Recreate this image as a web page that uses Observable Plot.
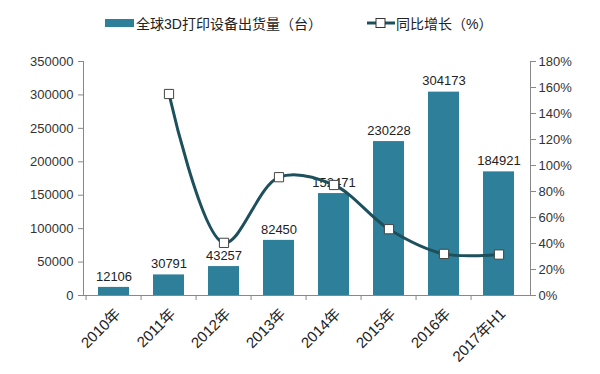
<!DOCTYPE html>
<html><head><meta charset="utf-8">
<script src="https://cdn.jsdelivr.net/npm/d3@7"></script>
<script src="https://cdn.jsdelivr.net/npm/@observablehq/plot@0.6"></script>
<style>
body{margin:0;background:#fff;font-family:"Liberation Sans","Noto Sans CJK SC",sans-serif;}
#legend{position:relative;height:40px;width:600px;font-size:14px;color:#222;}
#legend .item{position:absolute;top:13px;display:flex;align-items:center;white-space:nowrap;}
</style></head>
<body>
<div id="legend">
  <div class="item" style="left:105px"><span style="display:inline-block;width:29px;height:8px;background:#2e7f99;margin-right:2px"></span>全球3D打印设备出货量（台）</div>
  <div class="item" style="left:367px"><svg width="28" height="12" style="margin-right:1px"><line x1="0" y1="6" x2="28" y2="6" stroke="#1d4f5c" stroke-width="3"/><rect x="9" y="1.5" width="9" height="9" fill="#fff" stroke="#333" stroke-width="1"/></svg>同比增长（%）</div>
</div>
<div id="chart"></div>
<script>
const categories = ["2010年","2011年","2012年","2013年","2014年","2015年","2016年","2017年H1"];
const shipments = [12106, 30791, 43257, 82450, 152471, 230228, 304173, 184921];
const growthCategories = ["2011年","2012年","2013年","2014年","2015年","2016年","2017年H1"];
const growth = [155, 40.5, 91, 85, 51, 32, 31.5];
const leftTicks = [0,50000,100000,150000,200000,250000,300000,350000];
const rightTicks = [0,20,40,60,80,100,120,140,160,180];

const yMax = 350000, pMax = 180;
const toY = p => p / pMax * yMax;

const bars = categories.map((c,i)=>({cat:c, v:shipments[i]}));
const line = growthCategories.map((c,i)=>({cat:c, p:growth[i]}));

const W = 600, H = 334, mL = 83, mR = 70;
const step = (W - mL - mR) / categories.length;

const font = '"Liberation Sans","Noto Sans CJK SC",sans-serif';
const plot = Plot.plot({
  width: W, height: H,
  marginLeft: mL, marginRight: mR, marginTop: 21, marginBottom: 79,
  style: {fontFamily: font, fontSize: "13px", color: "#333", background: "#fff"},
  x: {domain: categories, padding: 0.43, paddingOuter: 0.215, label: null},
  y: {domain: [0, yMax], label: null},
  marks: [
    Plot.barY(bars, {x: "cat", y: "v", fill: "#2e7f99"}),
    Plot.text(bars, {x: "cat", y: "v", text: d => String(d.v), dy: -11, fill: "#222", fontSize: 13}),
    Plot.line(line, {x: "cat", y: d => toY(d.p), curve: "catmull-rom", stroke: "#1d4f5c", strokeWidth: 3}),
    Plot.dot(line, {x: "cat", y: d => toY(d.p), symbol: "square", r: 5.2, fill: "#fff", stroke: "#444", strokeWidth: 1}),
    Plot.ruleY([0], {stroke: "#888"}),
    Plot.ruleX(categories, {x: d => d, y1: 0, y2: 0, dx: -step/2, insetBottom: -5, stroke: "#888"}),
    Plot.frame({anchor: "left", stroke: "#888"}),
    Plot.frame({anchor: "right", stroke: "#888"}),
    Plot.axisY(leftTicks, {anchor: "left", tickSize: 5, tickPadding: 5, tickFormat: d => String(d), stroke: "#888", fill: "#333", fontSize: 13, label: null}),
    Plot.axisY(rightTicks.map(toY), {anchor: "right", tickSize: 5, tickPadding: 3, tickFormat: d => Math.round(d / yMax * pMax) + "%", stroke: "#888", fill: "#333", fontSize: 13, label: null}),
    Plot.axisX({anchor: "bottom", tickSize: 0, tickRotate: -45, tickPadding: 16, dx: 4, fill: "#222", fontSize: 15, label: null})
  ]
});
document.getElementById("chart").appendChild(plot);
</script>
</body></html>
